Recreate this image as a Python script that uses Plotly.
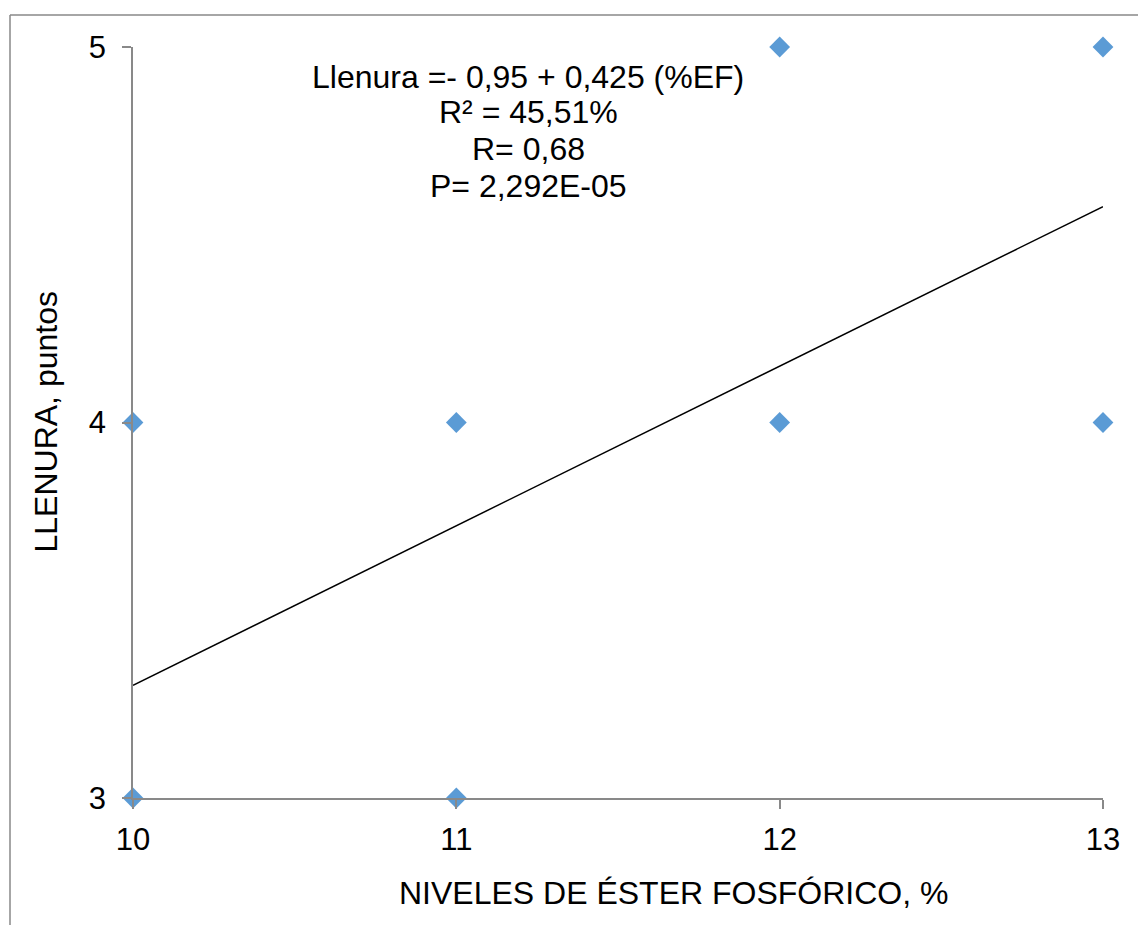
import plotly.graph_objects as go

# Data
niveles = [10, 10, 11, 11, 12, 12, 13, 13]
llenura = [4, 3, 4, 3, 5, 4, 5, 4]
coef_intercepto = -0.95
coef_pendiente = 0.425
x_trend = [10, 13]
y_trend = [coef_intercepto + coef_pendiente * v for v in x_trend]

eq_lines = ["Llenura =- 0,95 + 0,425 (%EF)", "R² = 45,51%", "R= 0,68", "P= 2,292E-05"]
eq_y = [4.920, 4.827, 4.728, 4.630]

FONT = "Liberation Sans, Arial, sans-serif"
GRAY = "#898989"

fig = go.Figure()
fig.add_trace(go.Scatter(x=x_trend, y=y_trend, mode="lines",
                         line=dict(color="black", width=1.5), hoverinfo="skip",
                         showlegend=False, cliponaxis=False))
fig.add_trace(go.Scatter(x=niveles, y=llenura, mode="markers",
                         marker=dict(symbol="diamond", size=16, color="#5B9BD5",
                                     line=dict(width=0)),
                         showlegend=False, cliponaxis=False))

for txt, yy in zip(eq_lines, eq_y):
    fig.add_annotation(x=11.222, y=yy, xref="x", yref="y", text=txt, showarrow=False,
                       xanchor="center", yanchor="middle",
                       font=dict(family=FONT, size=32, color="black"))

fig.add_annotation(x=(673 - 133) / 970, y=(798 - 893) / 751, xref="paper", yref="paper",
                   text="NIVELES DE ÉSTER FOSFÓRICO, %", showarrow=False,
                   xanchor="center", yanchor="middle",
                   font=dict(family=FONT, size=32, color="black"))
fig.add_annotation(x=(45 - 133) / 970, y=0.5, xref="paper", yref="paper",
                   text="LLENURA, puntos", showarrow=False, textangle=-90,
                   xanchor="center", yanchor="middle",
                   font=dict(family=FONT, size=32, color="black"))

# outer frame (left and top edges)
fig.add_shape(type="line", xref="paper", yref="paper",
              x0=(10 - 133) / 970, x1=(10 - 133) / 970,
              y0=(798 - 15) / 751, y1=(798 - 940) / 751,
              line=dict(color=GRAY, width=1.5))
fig.add_shape(type="line", xref="paper", yref="paper",
              x0=(10 - 133) / 970, x1=(1150 - 133) / 970,
              y0=(798 - 15) / 751, y1=(798 - 15) / 751,
              line=dict(color=GRAY, width=1.5))

fig.update_xaxes(range=[10, 13], tickvals=[10, 11, 12, 13], showgrid=False, zeroline=False,
                 showline=True, linecolor=GRAY, linewidth=1.5,
                 ticks="outside", ticklen=9, tickcolor=GRAY, tickwidth=1.5,
                 ticklabelstandoff=4,
                 tickfont=dict(family=FONT, size=31, color="black"))
fig.update_yaxes(range=[3, 5], tickvals=[3, 4, 5], showgrid=False, zeroline=False,
                 showline=True, linecolor=GRAY, linewidth=1.5,
                 ticks="outside", ticklen=9, tickcolor=GRAY, tickwidth=1.5,
                 ticklabelstandoff=10,
                 tickfont=dict(family=FONT, size=31, color="black"))

fig.update_layout(width=1138, height=925, plot_bgcolor="white", paper_bgcolor="white",
                  margin=dict(l=133, r=35, t=47, b=127, autoexpand=False),
                  font=dict(family=FONT, color="black"))

fig.write_html("out.html")
